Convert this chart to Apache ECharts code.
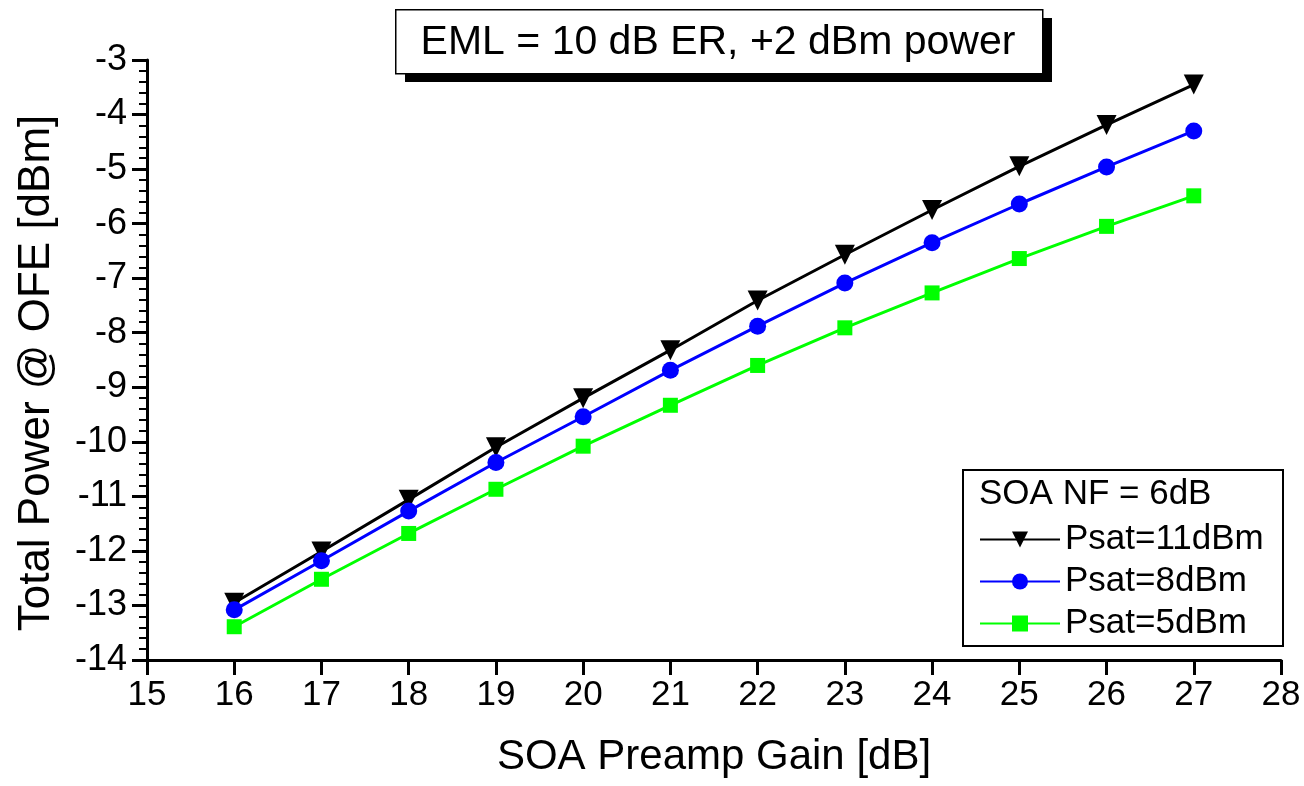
<!DOCTYPE html>
<html>
<head>
<meta charset="utf-8">
<title>Total Power vs SOA Preamp Gain</title>
<script src="https://cdn.jsdelivr.net/npm/echarts@6/dist/echarts.min.js"></script>
<style>
  html, body { margin: 0; padding: 0; background: #fff; }
  #chart { width: 1304px; height: 786px; }
</style>
</head>
<body>
<div id="chart"></div>
<script>
// SOA preamp gain [dB]
const gain = [16, 17, 18, 19, 20, 21, 22, 23, 24, 25, 26, 27]
// total power @ OFE [dBm], one array per saturation power
const psat11 = [-12.95, -12.01, -11.06, -10.10, -9.20, -8.32, -7.41, -6.57, -5.75, -4.95, -4.19, -3.45]
const psat8 = [-13.08, -12.18, -11.27, -10.38, -9.54, -8.69, -7.88, -7.09, -6.35, -5.64, -4.96, -4.30]
const psat5 = [-13.39, -12.52, -11.68, -10.87, -10.08, -9.33, -8.60, -7.91, -7.27, -6.64, -6.05, -5.49]
const seriesNames = ['Psat=11dBm', 'Psat=8dBm', 'Psat=5dBm']
const titleText = 'EML = 10 dB ER, +2 dBm power'
const legendTitle = 'SOA NF = 6dB'

const font = 'Arial, "Liberation Sans", sans-serif'

function pairs(ys) {
  return gain.map((g, i) => [g, ys[i]])
}

const chart = echarts.init(document.getElementById('chart'), null, { renderer: 'canvas' })

chart.setOption({
  backgroundColor: '#fff',
  animation: false,
  textStyle: { fontFamily: font },
  grid: { left: 147, right: 23, top: 60, bottom: 126 },
  xAxis: {
    type: 'value',
    min: 15,
    max: 28,
    interval: 1,
    name: 'SOA Preamp Gain [dB]',
    nameLocation: 'middle',
    nameGap: 76,
    nameTextStyle: { fontSize: 42, color: '#000', fontFamily: font },
    axisLine: { show: true, onZero: false, lineStyle: { color: '#000', width: 3 } },
    axisTick: { show: true, inside: false, length: 15, lineStyle: { color: '#000', width: 3 } },
    axisLabel: { fontSize: 35, color: '#000', margin: 18, fontFamily: font },
    splitLine: { show: false }
  },
  yAxis: {
    type: 'value',
    min: -14,
    max: -3,
    interval: 1,
    name: 'Total Power @ OFE [dBm]',
    nameLocation: 'middle',
    nameGap: 88,
    nameTextStyle: { fontSize: 44, color: '#000', fontFamily: font, padding: [0, 26, 0, 0] },
    axisLine: { show: true, onZero: false, lineStyle: { color: '#000', width: 3 } },
    axisTick: { show: true, inside: false, length: 15, lineStyle: { color: '#000', width: 3 } },
    minorTick: { show: true, splitNumber: 5, length: 8, lineStyle: { color: '#000', width: 2 } },
    axisLabel: { fontSize: 36, color: '#000', margin: 20, fontFamily: font },
    splitLine: { show: false }
  },
  legend: {
    orient: 'vertical',
    left: 979,
    top: 522,
    padding: 0,
    itemWidth: 80,
    itemHeight: 20,
    itemGap: 7,
    textStyle: { fontSize: 35, color: '#000', fontFamily: font },
    data: seriesNames
  },
  graphic: [
    // title box with drop shadow
    { type: 'rect', left: 405, top: 18, shape: { width: 647, height: 64 }, style: { fill: '#000' }, z: 10 },
    { type: 'rect', left: 395, top: 9, shape: { width: 647, height: 64 }, style: { fill: '#fff', stroke: '#000', lineWidth: 1.5 }, z: 11 },
    {
      type: 'text', x: 718, y: 43, z: 12,
      style: { text: titleText, fill: '#000', font: '41px ' + font, textAlign: 'center', textVerticalAlign: 'middle' }
    },
    // legend frame and heading
    { type: 'rect', left: 962, top: 469, shape: { width: 320, height: 176 }, style: { fill: '#fff', stroke: '#000', lineWidth: 2 }, z: 0 },
    {
      type: 'text', x: 979, y: 494, z: 1,
      style: { text: legendTitle, fill: '#000', font: '35px ' + font, textAlign: 'left', textVerticalAlign: 'middle' }
    }
  ],
  series: [{
    name: seriesNames[0],
    type: 'line',
    data: pairs(psat11),
    symbol: 'triangle',
    symbolRotate: 180,
    symbolSize: 20,
    color: '#000',
    lineStyle: { width: 3, color: '#000' },
    itemStyle: { color: '#000' }
  }, {
    name: seriesNames[1],
    type: 'line',
    data: pairs(psat8),
    symbol: 'circle',
    symbolSize: 17,
    color: '#0000ff',
    lineStyle: { width: 3, color: '#0000ff' },
    itemStyle: { color: '#0000ff' }
  }, {
    name: seriesNames[2],
    type: 'line',
    data: pairs(psat5),
    symbol: 'rect',
    symbolSize: 15,
    color: '#00ff00',
    lineStyle: { width: 3, color: '#00ff00' },
    itemStyle: { color: '#00ff00' }
  }]
})
</script>
</body>
</html>
